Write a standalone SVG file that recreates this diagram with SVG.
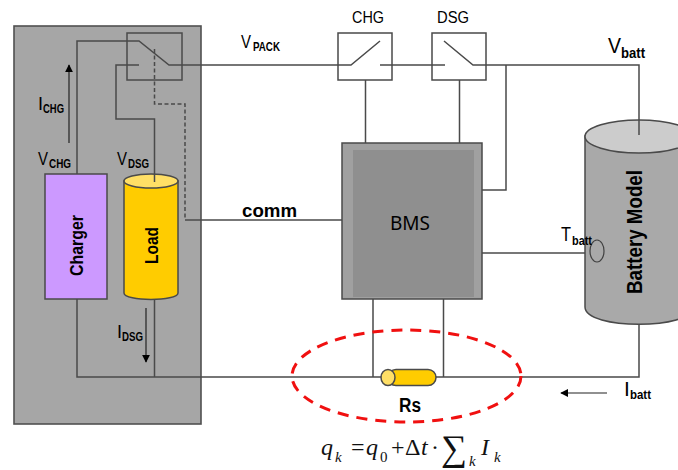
<svg xmlns="http://www.w3.org/2000/svg" width="678" height="470" viewBox="0 0 678 470">
<style>
text{font-family:"Liberation Sans",Arial,sans-serif;fill:#000}
.w{fill:none;stroke:#4a4a4a;stroke-width:1.5}
.box{stroke:#4a4a4a;stroke-width:1.5}
.v{font-size:18px}
.sub{font-size:12px;font-weight:bold}
.b{font-weight:bold}
.m{font-family:"Liberation Serif",serif;font-size:24px;fill:#111}
.i{font-style:italic}
.ms{font-size:15px}
</style>
<defs>
<marker id="ah" viewBox="0 0 10 10" refX="9" refY="5" markerWidth="8" markerHeight="8" orient="auto" markerUnits="userSpaceOnUse"><path d="M0 0L10 5L0 10Z" fill="#000"/></marker>
</defs>
<g id="panel"><rect x="14" y="26" width="187" height="398" fill="#a6a6a6" stroke="#505050" stroke-width="1.6"/></g>
<g id="switch-main"><rect class="box" x="127" y="33" width="55" height="47" fill="#a6a6a6"/></g>
<g id="switch-chg"><rect class="box" x="338" y="33" width="54" height="47" fill="#fff"/></g>
<g id="switch-dsg"><rect class="box" x="432" y="33" width="54" height="47" fill="#fff"/></g>
<g id="connectors">
<path class="w" d="M77 174V41H139L169 65H338"/>
<path class="w" d="M139 65H116V119H154.500V160"/>
<path class="w" stroke-dasharray="4 2.500" d="M154.500 49V104H185V220"/>
<path class="w" d="M185 220H342"/>
<path class="w" d="M338 65H351L380 41M380 65H445M444 41L473 65H639V135"/>
<path class="w" d="M365.500 80V143M459.500 80V143M482 190H506V65"/>
<path class="w" d="M482 253H598"/>
<path class="w" d="M77 299V377H639V323M154.500 300V377M373 299V377M443.500 299V377"/>
<path d="M69 143V65" stroke="#222" stroke-width="1.2" marker-end="url(#ah)"/>
<path d="M146 308V362" stroke="#222" stroke-width="1.2" marker-end="url(#ah)"/>
<path d="M607 393H561" stroke="#222" stroke-width="1.2" marker-end="url(#ah)"/>
</g>
<g id="charger"><rect class="box" x="45" y="174" width="62" height="125" fill="#cc99ff"/><text class="b" font-size="18" textLength="61" lengthAdjust="spacingAndGlyphs" transform="translate(83 276) rotate(-90)">Charger</text></g>
<g id="load"><path class="box" d="M124 181V293C124 301.500 178 301.500 178 293V181Z" fill="#ffcc00"/><ellipse class="box" cx="151" cy="181" rx="27" ry="7" fill="#ffdf66"/><path class="w" d="M154.500 160V182"/><text class="b" font-size="18" textLength="37" lengthAdjust="spacingAndGlyphs" transform="translate(158 264) rotate(-90)">Load</text></g>
<g id="bms"><rect class="box" x="342" y="143" width="140" height="156" fill="#a0a0a0"/><rect x="353" y="150" width="121" height="147" fill="#8f8f8f"/><text x="410" y="230" font-size="19" text-anchor="middle" style="font-family:'Noto Sans','Open Sans',sans-serif">BMS</text></g>
<g id="battery"><path class="box" d="M585 136V307C585 330 693 330 693 307V136Z" fill="#a9a9a9"/><ellipse class="box" cx="639" cy="136.500" rx="54" ry="16.500" fill="#cccccc"/><path class="w" d="M639 120V135"/><ellipse cx="597" cy="251" rx="7" ry="11" fill="none" stroke="#404040" stroke-width="1.2"/><text class="b" font-size="22" textLength="124" lengthAdjust="spacingAndGlyphs" transform="translate(642 294) rotate(-90)">Battery Model</text></g>
<g id="rs"><rect class="box" x="388" y="369.500" width="48" height="16" rx="8" fill="#ffcc00" stroke-width="1"/><ellipse class="box" cx="388" cy="377.500" rx="7" ry="8" fill="#ffdf66" stroke-width="1"/><text class="b" x="399" y="412" font-size="20" textLength="22" lengthAdjust="spacingAndGlyphs">Rs</text></g>
<g id="rs-highlight"><ellipse cx="406.500" cy="376" rx="114.500" ry="46" fill="none" stroke="#f01010" stroke-width="3" stroke-dasharray="11 8"/></g>
<g id="labels">
<text x="241" y="48" class="v" textLength="10" lengthAdjust="spacingAndGlyphs">V</text><text x="253" y="51" class="sub" textLength="27" lengthAdjust="spacingAndGlyphs">PACK</text>
<text x="352" y="23" font-size="16" textLength="32" lengthAdjust="spacingAndGlyphs">CHG</text>
<text x="437" y="23" font-size="16" textLength="32" lengthAdjust="spacingAndGlyphs">DSG</text>
<text x="608" y="53" font-size="22" textLength="13" lengthAdjust="spacingAndGlyphs">V</text><text x="621" y="58" font-size="14" font-weight="bold" textLength="24" lengthAdjust="spacingAndGlyphs">batt</text>
<text x="38" y="110" class="v">I</text><text x="43" y="113" class="sub" textLength="21" lengthAdjust="spacingAndGlyphs">CHG</text>
<text x="38" y="165" class="v" textLength="10" lengthAdjust="spacingAndGlyphs">V</text><text x="49" y="168" class="sub" textLength="22" lengthAdjust="spacingAndGlyphs">CHG</text>
<text x="117" y="165" class="v" textLength="10" lengthAdjust="spacingAndGlyphs">V</text><text x="128" y="168" class="sub" textLength="21" lengthAdjust="spacingAndGlyphs">DSG</text>
<text x="117" y="338" class="v">I</text><text x="122" y="341" class="sub" textLength="21" lengthAdjust="spacingAndGlyphs">DSG</text>
<text class="b" x="242" y="217" font-size="18" textLength="55" lengthAdjust="spacingAndGlyphs">comm</text>
<text x="561" y="241" font-size="20" textLength="10" lengthAdjust="spacingAndGlyphs">T</text><text x="572" y="245" font-size="13" font-weight="bold" textLength="20" lengthAdjust="spacingAndGlyphs">batt</text>
<text x="624" y="396" font-size="21">I</text><text x="630" y="399" font-size="13" font-weight="bold" textLength="21" lengthAdjust="spacingAndGlyphs">batt</text>
</g>
<g id="formula">
<text class="m i" x="321" y="455">q</text><text class="m i ms" x="335" y="462">k</text>
<text class="m" x="351" y="455">=</text>
<text class="m i" x="366" y="455">q</text><text class="m ms" x="380" y="462">0</text>
<text class="m" x="391" y="455">+</text><text class="m" x="405" y="455">Δ</text><text class="m i" x="421" y="455">t</text>
<text class="m" x="431" y="455">·</text>
<text class="m" x="441" y="460" style="font-size:36px" textLength="26" lengthAdjust="spacingAndGlyphs">∑</text>
<text class="m i ms" x="469" y="466">k</text>
<text class="m i" x="481" y="455">I</text><text class="m i ms" x="494" y="462">k</text>
</g>
</svg>
